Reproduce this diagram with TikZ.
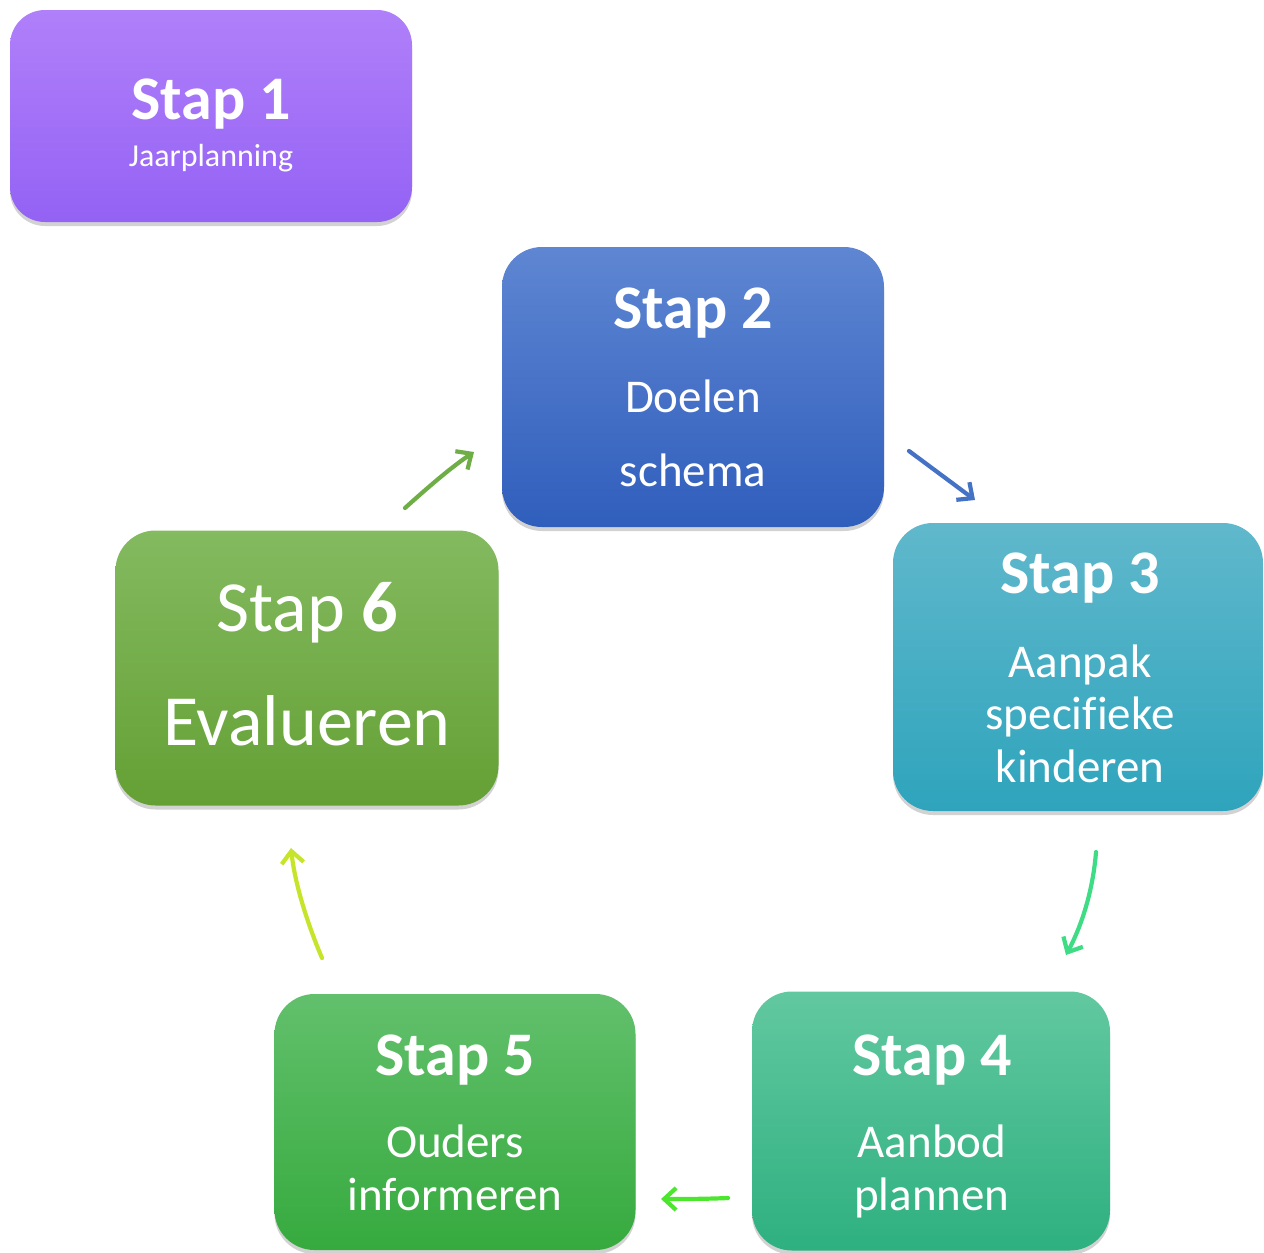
\documentclass[tikz,border=0pt]{standalone}
\usepackage{fontspec}
\setmainfont{Carlito}[Ligatures={NoCommon}]
\usetikzlibrary{arrows.meta,shadows}
\definecolor{c1t}{RGB}{176,128,250}
\definecolor{c1b}{RGB}{148,98,244}
\definecolor{c2t}{RGB}{94,134,210}
\definecolor{c2b}{RGB}{48,94,188}
\definecolor{c3t}{RGB}{96,184,204}
\definecolor{c3b}{RGB}{46,164,188}
\definecolor{c4t}{RGB}{98,200,160}
\definecolor{c4b}{RGB}{46,176,128}
\definecolor{c5t}{RGB}{98,192,108}
\definecolor{c5b}{RGB}{54,170,62}
\definecolor{c6t}{RGB}{132,186,96}
\definecolor{c6b}{RGB}{100,160,52}
\definecolor{a62}{RGB}{111,173,70}
\definecolor{a23}{RGB}{68,114,196}
\definecolor{a34}{RGB}{62,220,132}
\definecolor{a45}{RGB}{76,230,46}
\definecolor{a56}{RGB}{198,229,42}
\tikzset{
  x=1pt, y=-1pt,
  stepbox/.style={rounded corners=40pt, inner sep=0pt,
    drop shadow={shadow xshift=0pt, shadow yshift=-4pt, opacity=0.22, fill=black!80}},
  ttl/.style={anchor=base, text=white, font=\fontsize{62}{62}\selectfont\bfseries, inner sep=0pt},
  sub/.style={anchor=base, text=white, font=\fontsize{47}{47}\selectfont, inner sep=0pt},
  cyc/.style={line width=4.2pt, line cap=round, -{Straight Barb[length=12pt,width=22pt,line width=4.2pt]}}
}
\begin{document}
\begin{tikzpicture}
\useasboundingbox (0,0) rectangle (1264,1253);
% boxes
\node[stepbox, rounded corners=35pt, top color=c1t, bottom color=c1b, minimum width=402pt, minimum height=212pt] (s1) at (211,116) {};
\node[stepbox, top color=c2t, bottom color=c2b, minimum width=382pt, minimum height=280pt] (s2) at (693,387) {};
\node[stepbox, top color=c3t, bottom color=c3b, minimum width=370pt, minimum height=288pt] (s3) at (1078,667) {};
\node[stepbox, top color=c4t, bottom color=c4b, minimum width=358pt, minimum height=259pt] (s4) at (931,1121) {};
\node[stepbox, top color=c5t, bottom color=c5b, minimum width=361pt, minimum height=256pt] (s5) at (455,1122) {};
\node[stepbox, top color=c6t, bottom color=c6b, minimum width=383pt, minimum height=275pt] (s6) at (307,668) {};
% texts
\node[ttl] (t1) at (211,119) {Stap 1};
\node[sub, font=\fontsize{32}{32}\selectfont] (u1) at (211,166) {Jaarplanning};
\node[ttl] (t2) at (693,328) {Stap 2};
\node[sub] (u2a) at (693,412) {Doelen};
\node[sub] (u2b) at (693,486) {schema};
\node[ttl] (t3) at (1080,593) {Stap 3};
\node[sub] (u3a) at (1080,677) {Aanpak};
\node[sub] (u3b) at (1080,729) {specifieke};
\node[sub] (u3c) at (1080,782) {kinderen};
\node[ttl] (t4) at (932,1075) {Stap 4};
\node[sub] (u4a) at (932,1157) {Aanbod};
\node[sub] (u4b) at (932,1210) {plannen};
\node[ttl] (t5) at (455,1075) {Stap 5};
\node[sub] (u5a) at (455,1157) {Ouders};
\node[sub] (u5b) at (455,1210) {informeren};
\node[sub, font=\fontsize{72}{72}\selectfont] (t6) at (307,631) {Stap \textbf{6}};
\node[sub, font=\fontsize{72}{72}\selectfont] (u6) at (307,745) {Evalueren};
% arrows
\coordinate (a62s) at (405,508);
\coordinate (a62e) at (474,452);
\coordinate (a23s) at (909,451);
\coordinate (a23e) at (975,500);
\coordinate (a34s) at (1096,852);
\coordinate (a34e) at (1066,955);
\coordinate (a45s) at (728,1198);
\coordinate (a45e) at (661,1199);
\coordinate (a56s) at (322,958);
\coordinate (a56e) at (291,848);
\draw[cyc, a62] (a62s) .. controls (425,490) and (450,468) .. (a62e);
\draw[cyc, a23] (a23s) -- (a23e);
\draw[cyc, a34] (a34s) .. controls (1093,890) and (1082,925) .. (a34e);
\draw[cyc, a45] (a45s) .. controls (705,1199) and (685,1199) .. (a45e);
\draw[cyc, a56] (a56s) .. controls (308,925) and (295,885) .. (a56e);
\end{tikzpicture}
\end{document}
